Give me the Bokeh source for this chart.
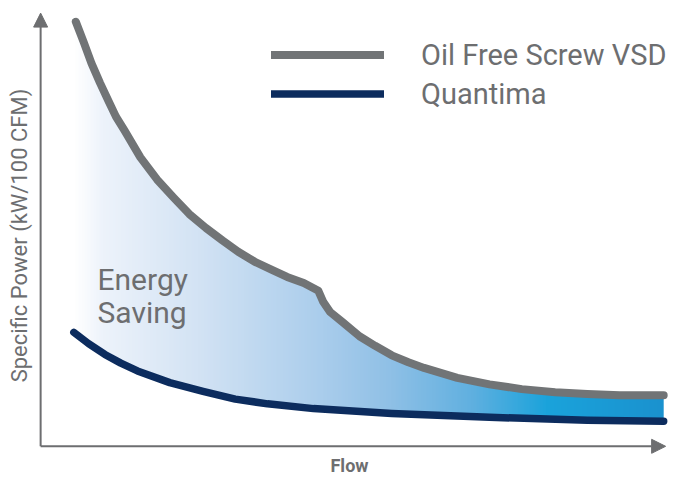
import numpy as np
from bokeh.plotting import figure
from bokeh.models import Range1d, Label, Arrow, NormalHead, Legend, LegendItem
from bokeh.embed import file_html
from bokeh.resources import INLINE

# ---- data (flow in % of axis, specific power in % of axis) ----
flow_vsd = [5.63, 6.89, 8.14, 9.50, 10.80, 12.05, 13.46, 15.96, 18.62, 21.28, 23.79, 26.45,
            29.11, 31.61, 34.27, 36.93, 39.44, 42.10, 44.44, 45.23, 46.32, 48.36, 51.02,
            53.52, 56.18, 58.84, 61.35, 66.67, 71.83, 77.00, 82.32, 87.48, 92.64, 99.69]
power_vsd = [98.0, 93.3, 88.4, 83.9, 79.9, 76.1, 72.8, 66.7, 61.6, 57.4, 53.6, 50.4,
             47.5, 44.9, 42.6, 40.8, 39.1, 37.7, 35.9, 33.3, 31.0, 28.6, 25.4,
             23.2, 21.0, 19.4, 18.1, 15.8, 14.3, 13.2, 12.5, 12.1, 11.8, 11.8]
flow_q = [5.32, 7.67, 10.28, 12.83, 15.49, 20.66, 25.98, 31.14, 36.31, 43.66, 56.18, 71.83, 87.48, 99.69]
power_q = [26.3, 23.7, 21.2, 19.2, 17.4, 14.7, 12.7, 10.9, 9.8, 8.7, 7.6, 6.7, 6.0, 5.8]

series_names = ["Oil Free Screw VSD", "Quantima"]
x_title = "Flow"
y_title = "Specific Power (kW/100 CFM)"
area_label = ["Energy", "Saving"]

# gradient stops (flow position, colour)
grad_pos = [5.6, 10.0, 25.0, 45.0, 56.0, 69.0, 81.0, 99.7]
grad_col = ["#ffffff", "#edf3fb", "#d3e3f4", "#aacdec", "#8fc0e6", "#60b0e0", "#1ba3db", "#1a92cf"]

GRAY = "#717476"
NAVY = "#0c2c5e"
TEXT = "#6d6e70"
FONT = "Roboto"

p = figure(width=670, height=476, output_backend="svg", toolbar_location=None,
           x_range=Range1d(-6.42, 100.78), y_range=Range1d(-6.97, 102.91),
           x_axis_type=None, y_axis_type=None, min_border=0)
p.grid.visible = False
p.outline_line_color = None
p.background_fill_color = "white"

# ---- gradient area between curves ----
N = 400
gx = np.linspace(flow_vsd[0], flow_vsd[-1], N)
def hex2rgb(h):
    return [int(h[i:i + 2], 16) for i in (1, 3, 5)]
rgb = np.array([hex2rgb(c) for c in grad_col], dtype=float)
img = np.zeros((1, N), dtype=np.uint32)
view = img.view(dtype=np.uint8).reshape((1, N, 4))
for k in range(3):
    view[0, :, k] = np.interp(gx, grad_pos, rgb[:, k]).astype(np.uint8)
view[0, :, 3] = 255
ybot = min(power_q) - 1
ytop = max(power_vsd) + 1
p.image_rgba(image=[img], x=flow_vsd[0], y=ybot, dw=flow_vsd[-1] - flow_vsd[0], dh=ytop - ybot)
# white masks outside the band (extended a little past the right end)
mx_top = list(flow_vsd) + [flow_vsd[-1] + 3]
my_top = list(power_vsd) + [power_vsd[-1]]
p.varea(x=mx_top, y1=my_top, y2=ytop + 2, fill_color="white")
mx_bot = list(flow_q) + [flow_q[-1] + 3]
my_bot = list(power_q) + [power_q[-1]]
p.varea(x=mx_bot, y1=ybot - 2, y2=my_bot, fill_color="white")

# ---- curves ----
r1 = p.line(flow_vsd, power_vsd, line_color=GRAY, line_width=8, line_cap="round", line_join="round")
r2 = p.line(flow_q, power_q, line_color=NAVY, line_width=7.5, line_cap="round", line_join="round")

legend = Legend(items=[LegendItem(label=series_names[0], renderers=[r1]),
                       LegendItem(label=series_names[1], renderers=[r2])],
                location=(271, 363), orientation="vertical",
                glyph_width=113, glyph_height=39, label_standoff=37, spacing=0,
                padding=0, margin=0, border_line_color=None, background_fill_alpha=0,
                label_text_font=FONT, label_text_font_size="29px", label_text_color=TEXT,
                label_height=39)
p.add_layout(legend, "center")

# ---- axes as arrows ----
head = dict(size=14, fill_color=TEXT, line_color=TEXT)
p.add_layout(Arrow(x_start=0, y_start=0, x_end=0, y_end=100, line_color=TEXT, line_width=2,
                   end=NormalHead(**head)))
p.add_layout(Arrow(x_start=0, y_start=0, x_end=100, y_end=0, line_color=TEXT, line_width=2,
                   end=NormalHead(**head)))

p.add_layout(Label(x=19, y=241, x_units="screen", y_units="screen", text=y_title, angle=np.pi / 2,
                   text_align="center", text_baseline="middle", text_font=FONT,
                   text_font_size="22px", text_color=TEXT))
p.add_layout(Label(x=349, y=1, x_units="screen", y_units="screen", text=x_title,
                   text_align="center", text_baseline="bottom", text_font=FONT,
                   text_font_size="18px", text_font_style="bold", text_color=TEXT))
p.add_layout(Label(x=97, y=476 - 279, x_units="screen", y_units="screen", text=area_label[0],
                   text_align="left", text_baseline="alphabetic", text_font=FONT,
                   text_font_size="30px", text_color=TEXT))
p.add_layout(Label(x=97, y=476 - 312, x_units="screen", y_units="screen", text=area_label[1],
                   text_align="left", text_baseline="alphabetic", text_font=FONT,
                   text_font_size="30px", text_color=TEXT))

open("out.html", "w").write(file_html(p, INLINE))
